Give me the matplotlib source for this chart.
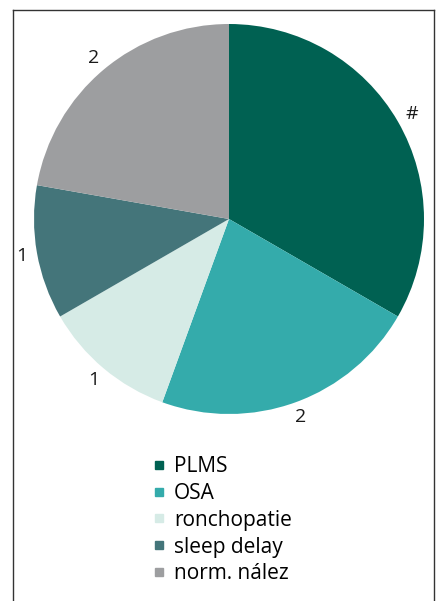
import matplotlib
matplotlib.use("Agg")
import matplotlib.pyplot as plt
from matplotlib.lines import Line2D

plt.rcParams['font.family'] = ['Open Sans', 'DejaVu Sans']

# data
categories = ['PLMS', 'OSA', 'ronchopatie', 'sleep delay', 'norm. nález']
counts = [3, 2, 1, 1, 2]
slice_labels = ['#', '2', '1', '1', '2']
colors = ['#006152', '#34abab', '#d6ebe6', '#44757a', '#9d9ea0']

fig = plt.figure(figsize=(4.36, 6.01), dpi=100)
ax = fig.add_axes([34/436, 1 - 414/601, 390/436, 390/601])

wedges, texts = ax.pie(counts, labels=slice_labels, colors=colors,
                       startangle=90, counterclock=False,
                       labeldistance=1.08, radius=1,
                       textprops={'fontsize': 14, 'color': '#1a1a1a'})
for t in texts:
    t.set_ha('center')
    t.set_va('center')
ax.set_xlim(-1, 1)
ax.set_ylim(-1, 1)
ax.set_aspect('equal')

# frame lines (open at bottom)
fw = 436.0
fh = 601.0
fig.add_artist(Line2D([13/fw, 13/fw], [0, 1 - 10/fh], color='#333333', lw=1.0))
fig.add_artist(Line2D([434/fw, 434/fw], [0, 1 - 10/fh], color='#333333', lw=1.0))
fig.add_artist(Line2D([13/fw, 434/fw], [1 - 10/fh, 1 - 10/fh], color='#333333', lw=1.0))

handles = [Line2D([], [], marker='s', linestyle='none', markersize=6,
                  markerfacecolor=c, markeredgecolor=c) for c in colors]
fig.legend(handles, categories, loc='upper left',
           bbox_to_anchor=(152/fw, 1 - 456/fh), frameon=False,
           fontsize=15, handlelength=0.65, handletextpad=0.4,
           labelspacing=0.28, borderpad=0, borderaxespad=0)

fig.savefig('out.png', dpi=100)
